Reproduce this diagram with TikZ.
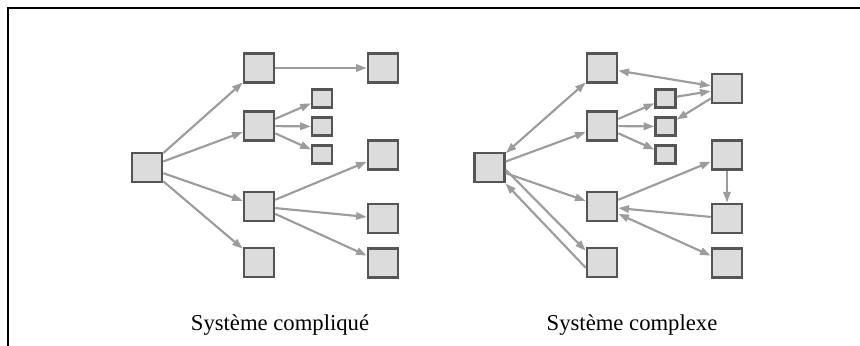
\documentclass[tikz,border=0pt]{standalone}
\usepackage{fontspec}
\setmainfont{Liberation Serif}
\usetikzlibrary{arrows.meta}
\definecolor{boxfill}{HTML}{DCDCDC}
\definecolor{boxline}{HTML}{555555}
\definecolor{arrcol}{HTML}{9C9C9C}
\begin{document}
\begin{tikzpicture}[x=0.75pt,y=-0.75pt,
  bigbox/.style={draw=boxline,fill=boxfill,line width=1.9pt,minimum width=22.5pt,minimum height=22pt,inner sep=0pt},
  smallbox/.style={draw=boxline,fill=boxfill,line width=1.7pt,minimum width=15pt,minimum height=13.5pt,inner sep=0pt},
  arr/.style={draw=arrcol,line width=1.6pt,-{Triangle[length=8pt,width=5.5pt]}},
  biarr/.style={draw=arrcol,line width=1.6pt,{Triangle[length=8pt,width=5.5pt]}-{Triangle[length=8pt,width=5.5pt]}},
  caption/.style={anchor=base,font=\fontsize{17pt}{20pt}\selectfont,inner sep=0pt}]
\useasboundingbox (0,0) rectangle (860,346);
\draw[line width=1.5pt] (8,346) -- (8,8) -- (860,8);

% left diagram
\node[bigbox] (lL) at (147,167.5) {};
\node[bigbox] (lA) at (259,68) {};
\node[bigbox] (lB) at (259,126) {};
\node[bigbox] (lC) at (259,206.5) {};
\node[bigbox] (lD) at (259,262.5) {};
\node[smallbox] (ls1) at (322,98.5) {};
\node[smallbox] (ls2) at (322,126.5) {};
\node[smallbox] (ls3) at (322,154.5) {};
\node[bigbox] (lR1) at (383,68) {};
\node[bigbox] (lR2) at (383,155) {};
\node[bigbox] (lR3) at (383,218.5) {};
\node[bigbox] (lR4) at (383,263) {};
\draw[arr] (lL) -- (lA);
\draw[arr] (lL) -- (lB);
\draw[arr] (lL) -- (lC);
\draw[arr] (lL) -- (lD);
\draw[arr] (lA) -- (lR1);
\draw[arr] (lB) -- (ls1);
\draw[arr] (lB) -- (ls2);
\draw[arr] (lB) -- (ls3);
\draw[arr] (lC) -- (lR2);
\draw[arr] (lC) -- (lR3);
\draw[arr] (lC) -- (lR4);
\node[caption] (lcap) at (280,330) {Système compliqué};

% right diagram
\node[bigbox] (rL) at (489.5,167.5) {};
\node[bigbox] (rA) at (602,68) {};
\node[bigbox] (rB) at (602,126) {};
\node[bigbox] (rC) at (602,206.5) {};
\node[bigbox] (rD) at (602,262.5) {};
\node[smallbox] (rs1) at (665.5,98.5) {};
\node[smallbox] (rs2) at (665.5,126.5) {};
\node[smallbox] (rs3) at (665.5,154.5) {};
\node[bigbox] (rR1) at (727,88.5) {};
\node[bigbox] (rR2) at (727,155) {};
\node[bigbox] (rR3) at (727,218.5) {};
\node[bigbox] (rR4) at (727,263) {};
\draw[biarr] (rL) -- (rA);
\draw[arr] (rL) -- (rB);
\draw[arr] (rL) -- (rC);
\draw[arr] (rL.-8) -- (rD.144);
\draw[arr] (rD.198) -- (rL.-45);
\draw[biarr] (rA) -- (rR1);
\draw[arr] (rB) -- (rs1);
\draw[arr] (rB) -- (rs2);
\draw[arr] (rB) -- (rs3);
\draw[arr] (rs1) -- (rR1);
\draw[arr] (rR1) -- (rs2);
\draw[arr] (rC) -- (rR2);
\draw[arr] (rR2) -- (rR3);
\draw[arr] (rR3) -- (rC);
\draw[biarr] (rC) -- (rR4);
\node[caption] (rcap) at (632,330) {Système complexe};
\end{tikzpicture}
\end{document}
